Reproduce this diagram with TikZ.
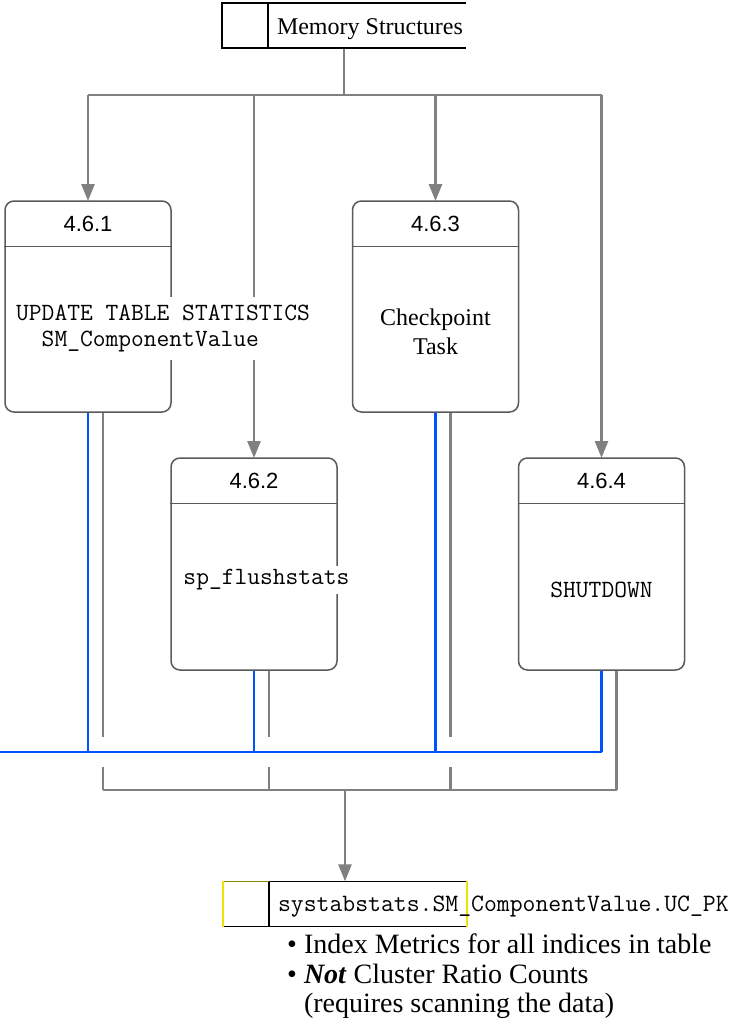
\documentclass[tikz,border=0pt]{standalone}
\usepackage{fontspec}
\setmainfont{Liberation Serif}
\setsansfont{Liberation Sans}
\usetikzlibrary{arrows.meta,calc}
\definecolor{flowgray}{HTML}{808080}
\definecolor{edgegray}{HTML}{5A5A5A}
\definecolor{flowblue}{HTML}{0052FF}
\definecolor{marker}{HTML}{F0E400}
\definecolor{markerdark}{HTML}{8A8400}

\begin{document}
\begin{tikzpicture}[x=1pt,y=-1pt,
  flow/.style={draw=flowgray,line width=2.6pt},
  arrowflow/.style={flow,-{Triangle[length=17pt,width=13pt]}},
  bluelink/.style={draw=flowblue,line width=2.8pt},
  procbox/.style={draw=edgegray,line width=1.5pt,rounded corners=9pt,
    minimum width=166pt,minimum height=211pt,inner sep=0pt,fill=white},
  divider/.style={draw=edgegray,line width=1.5pt},
  storeline/.style={draw=black,line width=1.5pt},
  storebox/.style={minimum width=244pt,minimum height=45pt,inner sep=0pt},
  numtext/.style={font=\sffamily\fontsize{22}{26}\selectfont,inner sep=0pt},
  codetext/.style={font=\ttfamily\fontsize{24.8}{26}\selectfont,fill=white},
  prosetext/.style={font=\rmfamily\fontsize{24}{29}\selectfont},
]
\useasboundingbox (0,0) rectangle (729,1026);

% ---- data stores ----
\node[storebox] (mem) at (344,25.5) {};
\node[storebox] (sink) at (345,904) {};

% ---- process boxes ----
\coordinate (topbus) at (0,95);
\coordinate (gaptop) at (0,737);
\coordinate (gapbot) at (0,767);
\coordinate (blueleft) at (0,752);
\coordinate (botbus) at (345,790);

% fan-out from the memory structures
\draw[flow] (mem.south) -- (mem.south |- topbus);
\draw[flow] (88,95) -- (601.5,95);
\draw[arrowflow] (88,95) -- (88,201);
\draw[arrowflow] (254,95) -- (254,458);
\draw[arrowflow] (435.5,95) -- (435.5,201);
\draw[arrowflow] (601.5,95) -- (601.5,458);

\node[procbox] (b1) at (88,306.5) {};
\node[procbox] (b3) at (435.5,306.5) {};
\node[procbox,minimum height=212pt] (b2) at (254,564) {};
\node[procbox,minimum height=212pt] (b4) at (601.5,564) {};

\foreach \b/\n in {b1/4.6.1,b2/4.6.2,b3/4.6.3,b4/4.6.4}{
  \draw[divider] ($(\b.north west)+(0,46)$) -- ($(\b.north east)+(0,46)$);
  \node[numtext] (\b-num) at ($(\b.north)+(0,24)$) {\n};
}

% ---- outgoing flows ----
\foreach \b in {b1,b2,b3,b4}{
  \coordinate (\b-g) at ($(\b.south)+(15,0)$);
}
\foreach \b in {b1,b2,b3}{
  \draw[flow] (\b-g) -- (\b-g |- gaptop);
  \draw[flow] (\b-g |- gapbot) -- (\b-g |- botbus);
}
\draw[flow] (b4-g) -- (b4-g |- botbus);
\draw[flow] (b1-g |- botbus) -- (b4-g |- botbus);
\draw[arrowflow] (botbus) -- (sink.north);

\foreach \b in {b1,b2,b3,b4}{
  \draw[bluelink] (\b.south) -- (\b.south |- blueleft);
}
\draw[bluelink] (blueleft) -- (b4.south |- blueleft);

% ---- box texts ----
\node[codetext,anchor=west,align=left,inner xsep=2pt,inner ysep=8pt] (t1) at (14,328)
  {UPDATE TABLE STATISTICS\\\phantom{UP}SM\_ComponentValue};
\node[codetext,inner xsep=2pt,inner ysep=4pt] (t2) at (266.5,580) {sp\_flushstats};
\node[prosetext,align=center] (t3) at (435.5,332) {Checkpoint\\Task};
\node[codetext,fill=none] (t4) at (601.5,590) {SHUTDOWN};

% ---- memory structures store ----
\draw[storeline] (mem.north east) -- (mem.north west) -- (mem.south west) -- (mem.south east);
\draw[storeline] ($(mem.north west)+(46,0)$) -- ($(mem.south west)+(46,0)$);
\node[prosetext,anchor=base west,inner sep=0pt] (memlabel) at ($(mem.west)+(55,9)$) {Memory Structures};

% ---- statistics store ----
\draw[storeline] (sink.north east) -- (sink.north west) -- (sink.south west) -- (sink.south east);
\draw[storeline] ($(sink.north west)+(46,0)$) -- ($(sink.south west)+(46,0)$);
\draw[markerdark,line width=1.5pt] (sink.north west) -- ($(sink.north west)+(46,0)$);
\draw[marker,line width=1.5pt] (sink.north west) -- (sink.south west);
\draw[marker,line width=1.5pt] (sink.north east) -- (sink.south east);
\node[font=\ttfamily\fontsize{25}{26}\selectfont,anchor=base west,inner sep=0pt] (sinklabel)
  at ($(sink.west)+(55,7)$) {systabstats.SM\_ComponentValue.UC\_PK};

\node[font=\rmfamily\fontsize{28}{29.5}\selectfont,anchor=north west,align=left,inner sep=0pt] (notes) at (287,934)
  {\textbullet\ Index Metrics for all indices in table\\
   \textbullet\ \textbf{\textit{Not}} Cluster Ratio Counts\\
   \phantom{\textbullet\ }(requires scanning the data)};
\end{tikzpicture}
\end{document}
